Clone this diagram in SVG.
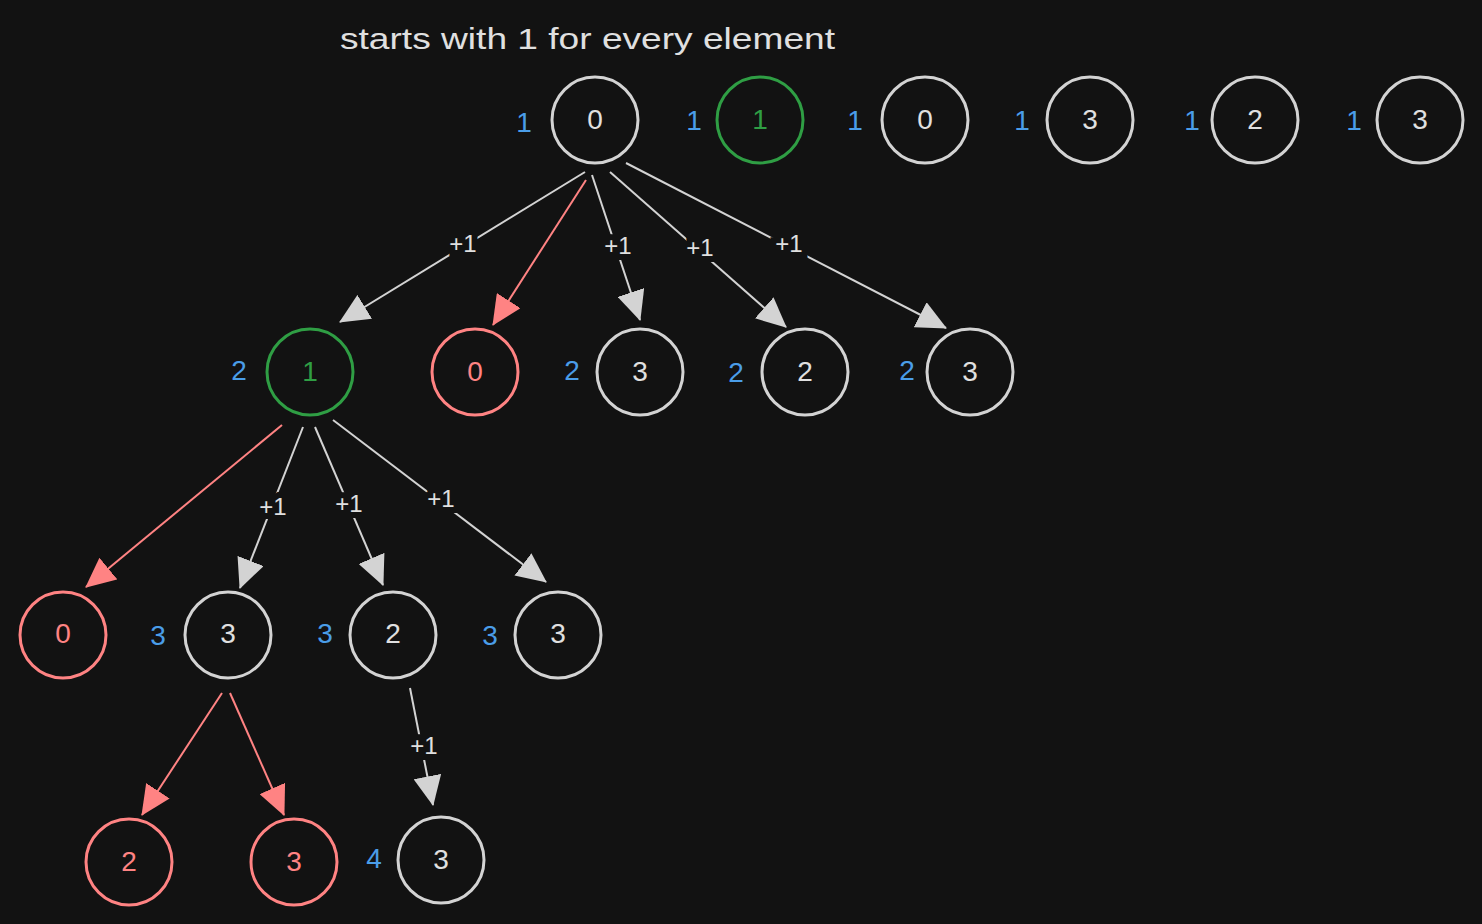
<svg xmlns="http://www.w3.org/2000/svg" width="1482" height="924" viewBox="0 0 1482 924">
<style>
.bg{fill:#121212}
.n{fill:none;stroke:#d3d3d3;stroke-width:3}
.g{fill:none;stroke:#2f9e44;stroke-width:3}
.r{fill:none;stroke:#ff8383;stroke-width:3}
.t{font-family:"Liberation Sans",Arial,sans-serif;font-size:28px;text-anchor:middle;dominant-baseline:central}
.tn{fill:#e0e0e0}.tg{fill:#2f9e44}.tr{fill:#ff8383}
.b{font-family:"Liberation Sans",Arial,sans-serif;font-size:28px;fill:#4a9de8;text-anchor:middle;dominant-baseline:central}
.cg{stroke:#d3d3d3;stroke-width:2;fill:none;marker-end:url(#ag)}
.cr{stroke:#ff8383;stroke-width:2;fill:none;marker-end:url(#ar)}
.lb{font-family:"Liberation Sans",Arial,sans-serif;font-size:24px;fill:#e0e0e0;text-anchor:middle;dominant-baseline:central;stroke:#121212;stroke-width:12;paint-order:stroke}
.title{font-family:"Liberation Sans",Arial,sans-serif;font-size:30px;fill:#e0e0e0}
</style>
<defs>
<marker id="ag" markerUnits="userSpaceOnUse" markerWidth="30" markerHeight="28" viewBox="0 0 30 28" refX="29" refY="14" orient="auto"><path d="M0,0 L30,14 L0,28 z" fill="#d3d3d3"/></marker>
<marker id="ar" markerUnits="userSpaceOnUse" markerWidth="30" markerHeight="28" viewBox="0 0 30 28" refX="29" refY="14" orient="auto"><path d="M0,0 L30,14 L0,28 z" fill="#ff8383"/></marker>
</defs>
<rect class="bg" x="0" y="0" width="1482" height="924"/>
<text class="title" x="340" y="49" textLength="495" lengthAdjust="spacingAndGlyphs">starts with 1 for every element</text>

<g id="connectors">
<path class="cg" d="M585,172 L340,322"/>
<path class="cr" d="M586,180 L493,325"/>
<path class="cg" d="M592,175 L640,320"/>
<path class="cg" d="M610,172 L786,327"/>
<path class="cg" d="M626,163 L946,328"/>
<path class="cr" d="M282,425 L86,587"/>
<path class="cg" d="M303,427 L240,588"/>
<path class="cg" d="M315,427 L383,585"/>
<path class="cg" d="M333,420 L546,582"/>
<path class="cr" d="M222,693 L142,815"/>
<path class="cr" d="M230,693 L284,815"/>
<path class="cg" d="M410,688 L433,805"/>
<text class="lb" x="463" y="243">+1</text>
<text class="lb" x="618" y="245">+1</text>
<text class="lb" x="700" y="247">+1</text>
<text class="lb" x="789" y="243">+1</text>
<text class="lb" x="273" y="506">+1</text>
<text class="lb" x="349" y="503">+1</text>
<text class="lb" x="441" y="498">+1</text>
<text class="lb" x="424" y="745">+1</text>
</g>

<g id="n_r1_0"><text class="b" x="524" y="122">1</text><circle class="n" cx="595" cy="120" r="43"/><text class="t tn" x="595" y="119">0</text></g>
<g id="n_r1_1"><text class="b" x="694" y="120">1</text><circle class="g" cx="760" cy="120" r="43"/><text class="t tg" x="760" y="119">1</text></g>
<g id="n_r1_2"><text class="b" x="855" y="120">1</text><circle class="n" cx="925" cy="120" r="43"/><text class="t tn" x="925" y="119">0</text></g>
<g id="n_r1_3"><text class="b" x="1022" y="120">1</text><circle class="n" cx="1090" cy="120" r="43"/><text class="t tn" x="1090" y="119">3</text></g>
<g id="n_r1_4"><text class="b" x="1192" y="120">1</text><circle class="n" cx="1255" cy="120" r="43"/><text class="t tn" x="1255" y="119">2</text></g>
<g id="n_r1_5"><text class="b" x="1354" y="120">1</text><circle class="n" cx="1420" cy="120" r="43"/><text class="t tn" x="1420" y="119">3</text></g>

<g id="n_r2_0"><text class="b" x="239" y="370">2</text><circle class="g" cx="310" cy="372" r="43"/><text class="t tg" x="310" y="371">1</text></g>
<g id="n_r2_1"><circle class="r" cx="475" cy="372" r="43"/><text class="t tr" x="475" y="371">0</text></g>
<g id="n_r2_2"><text class="b" x="572" y="370">2</text><circle class="n" cx="640" cy="372" r="43"/><text class="t tn" x="640" y="371">3</text></g>
<g id="n_r2_3"><text class="b" x="736" y="372">2</text><circle class="n" cx="805" cy="372" r="43"/><text class="t tn" x="805" y="371">2</text></g>
<g id="n_r2_4"><text class="b" x="907" y="370">2</text><circle class="n" cx="970" cy="372" r="43"/><text class="t tn" x="970" y="371">3</text></g>

<g id="n_r3_0"><circle class="r" cx="63" cy="635" r="43"/><text class="t tr" x="63" y="633">0</text></g>
<g id="n_r3_1"><text class="b" x="158" y="635">3</text><circle class="n" cx="228" cy="635" r="43"/><text class="t tn" x="228" y="633">3</text></g>
<g id="n_r3_2"><text class="b" x="325" y="633">3</text><circle class="n" cx="393" cy="635" r="43"/><text class="t tn" x="393" y="633">2</text></g>
<g id="n_r3_3"><text class="b" x="490" y="635">3</text><circle class="n" cx="558" cy="635" r="43"/><text class="t tn" x="558" y="633">3</text></g>

<g id="n_r4_0"><circle class="r" cx="129" cy="862" r="43"/><text class="t tr" x="129" y="861">2</text></g>
<g id="n_r4_1"><circle class="r" cx="294" cy="862" r="43"/><text class="t tr" x="294" y="861">3</text></g>
<g id="n_r4_2"><text class="b" x="374" y="858">4</text><circle class="n" cx="441" cy="860" r="43"/><text class="t tn" x="441" y="859">3</text></g>
</svg>
